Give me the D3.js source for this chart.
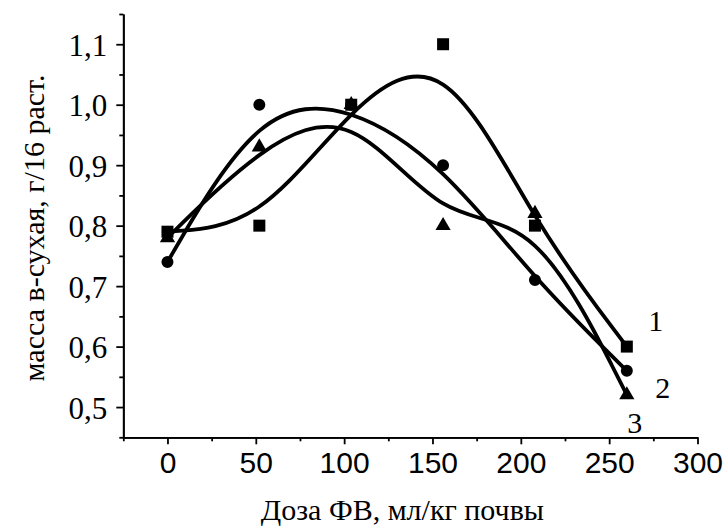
<!DOCTYPE html>
<html>
<head>
<meta charset="utf-8">
<script src="https://cdn.jsdelivr.net/npm/d3@7"></script>
<style>
  body { margin: 0; background: #fff; }
  .serif { font-family: "Liberation Serif", "Times New Roman", serif; }
  .sans { font-family: "Liberation Sans", Arial, sans-serif; }
</style>
</head>
<body>
<svg width="727" height="529"></svg>
<script>
// data
let doses = [0, 52, 104, 156, 208, 260];
let mass1 = [0.79, 0.80, 1.00, 1.10, 0.80, 0.60]; // squares
let mass2 = [0.74, 1.00, 1.00, 0.90, 0.71, 0.56]; // circles
let mass3 = [0.78, 0.93, 1.00, 0.80, 0.82, 0.52]; // triangles
let seriesNames = ['1', '2', '3'];

let xTicks = [0, 50, 100, 150, 200, 250, 300];
let xMinorTicks = [-25, 25, 75, 125, 175, 225, 275];
let yTicks = [0.5, 0.6, 0.7, 0.8, 0.9, 1.0, 1.1];
let yMinorTicks = [0.45, 0.55, 0.65, 0.75, 0.85, 0.95, 1.05, 1.15];
let yTickLabels = ['0,5', '0,6', '0,7', '0,8', '0,9', '1,0', '1,1'];

let xTitle = 'Доза ФВ, мл/кг почвы';
let yTitle = 'масса в-сухая, г/16 раст.';

let svg = d3.select('svg');
let margin = {top: 14, right: 29.5, bottom: 91.7, left: 123.3},
  width = +svg.attr('width') - margin.left - margin.right,
  height = +svg.attr('height') - margin.top - margin.bottom;

let g = svg.append('g')
  .attr('transform', `translate(${margin.left},${margin.top})`);

let xScale = d3.scaleLinear().domain([-25, 300]).range([0, width]);
let yScale = d3.scaleLinear().domain([0.45, 1.15]).range([height, 0]);

// x axis
let xAxis = g.append('g')
  .attr('transform', `translate(0,${height})`)
  .call(d3.axisBottom(xScale).tickValues(xTicks).tickSize(7).tickSizeOuter(0).tickPadding(7));
g.append('g')
  .attr('transform', `translate(0,${height})`)
  .call(d3.axisBottom(xScale).tickValues(xMinorTicks).tickSize(4).tickSizeOuter(0).tickFormat(''));
xAxis.selectAll('text')
  .attr('class', 'sans')
  .style('font-size', '30px')
  .attr('fill', '#000');

// y axis
let yAxis = g.append('g')
  .call(d3.axisLeft(yScale).tickValues(yTicks).tickSize(7).tickSizeOuter(0).tickPadding(9)
    .tickFormat((d, i) => yTickLabels[i]));
g.append('g')
  .call(d3.axisLeft(yScale).tickValues(yMinorTicks).tickSize(4).tickSizeOuter(0).tickFormat(''));
yAxis.selectAll('text')
  .attr('class', 'serif')
  .attr('dy', '0.36em')
  .style('font-size', '31px')
  .attr('fill', '#000');

g.selectAll('.domain, .tick line')
  .attr('stroke', '#000')
  .attr('stroke-width', 1.8);

// titles
svg.append('text')
  .attr('class', 'serif')
  .attr('x', margin.left + width / 2 - 8)
  .attr('y', 520)
  .attr('text-anchor', 'middle')
  .style('font-size', '30px')
  .text(xTitle);

svg.append('text')
  .attr('class', 'serif')
  .attr('transform', `translate(44,${228}) rotate(-90)`)
  .attr('text-anchor', 'middle')
  .style('font-size', '30px')
  .text(yTitle);

// curves (B-spline through the points)
let series = [mass1, mass2, mass3].map((vals, i) => ({
  name: seriesNames[i],
  points: doses.map((d, j) => ({dose: d, mass: vals[j]}))
}));

let line = d3.line()
  .x(d => xScale(d.dose))
  .y(d => yScale(d.mass))
  .curve(d3.curveBasis);

g.selectAll('path.line')
  .data(series)
  .enter().append('path')
  .attr('class', 'line')
  .attr('d', d => line(d.points))
  .attr('fill', 'none')
  .attr('stroke', '#000')
  .attr('stroke-width', 3.8);

// markers
let symbols = [
  d3.symbol().type(d3.symbolTriangle).size(100),
  d3.symbol().type(d3.symbolCircle).size(113),
  d3.symbol().type(d3.symbolSquare).size(144)
];
[2, 1, 0].forEach((si, k) => {
  g.selectAll(`.mark${si}`)
    .data(series[si].points)
    .enter().append('path')
    .attr('class', `mark${si}`)
    .attr('transform', d => `translate(${xScale(d.dose)},${yScale(d.mass)})`)
    .attr('d', symbols[k]())
    .attr('fill', '#000');
});

// curve numbers next to the end points
let labelOffsets = [[29, -16], [36, 27], [8, 38]];
series.forEach((s, i) => {
  let last = s.points[s.points.length - 1];
  g.append('text')
    .attr('class', 'serif')
    .attr('x', xScale(last.dose) + labelOffsets[i][0])
    .attr('y', yScale(last.mass) + labelOffsets[i][1])
    .attr('text-anchor', 'middle')
    .style('font-size', '30px')
    .text(s.name);
});
</script>
</body>
</html>
